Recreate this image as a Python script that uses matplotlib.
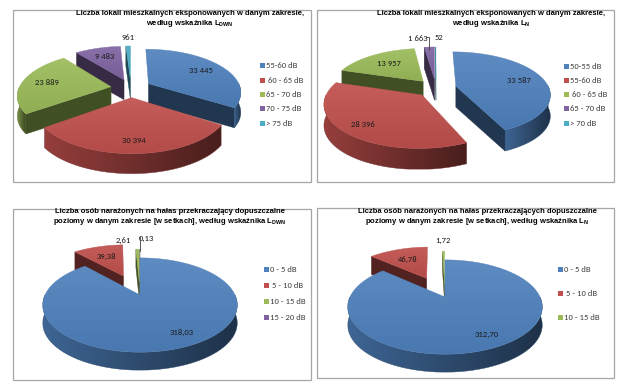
"""Four exploded 3D pie charts (noise exposure, Excel-style)."""
import matplotlib

matplotlib.use("Agg")
import matplotlib.pyplot as plt
import numpy as np
from matplotlib import font_manager as fm
from matplotlib.colors import to_rgb
from matplotlib.patches import Polygon, Rectangle


def has_font(name):
    try:
        fm.findfont(name, fallback_to_default=False)
        return True
    except ValueError:
        return False


TITLE_FONT = "Liberation Sans Narrow" if has_font("Liberation Sans Narrow") else "Liberation Sans"
TITLE_SIZE = 6.2 if TITLE_FONT.endswith("Narrow") else 5.5
BODY_FONT = "Carlito" if has_font("Carlito") else "Lato"
plt.rcParams["mathtext.fontset"] = "custom"
plt.rcParams["mathtext.bf"] = TITLE_FONT + ":bold"
plt.rcParams["mathtext.rm"] = TITLE_FONT + ":bold"

# ---- data -------------------------------------------------------------
p1_labels = ["55-60 dB", " 60 - 65 dB", "65 - 70 dB", "70 - 75 dB", "> 75 dB"]
p1_values = [33445, 30394, 23889, 9483, 961]

p2_labels = ["50-55 dB", "55-60 dB", " 60 - 65 dB", "65 - 70 dB", "> 70 dB"]
p2_values = [33587, 28396, 13957, 1663, 52]

p3_labels = ["0 - 5 dB", " 5 - 10 dB", "10 - 15 dB", "15 - 20 dB"]
p3_values = [318.03, 39.38, 2.61, 0.13]

p4_labels = ["0 - 5 dB", " 5 - 10 dB", "10 - 15 dB"]
p4_values = [312.70, 46.78, 1.72]

COLORS = ["#4F81BD", "#C0504D", "#9BBB59", "#8064A2", "#4BACC6"]

title_lok = "Liczba lokali mieszkalnych eksponowanych w danym zakresie,\nwedług wskaźnika L"
title_os1 = ("Liczba osób narażonych na hałas przekraczający dopuszczalne\n"
             "poziomy w danym zakresie [w setkach], według wskaźnika L")
title_os2 = ("Liczba osób narażonych na hałas przekraczających dopuszczalne\n"
             "poziomy w danym zakresie [w setkach], według wskaźnika L")


def fmt_int(v):
    return f"{v:,.0f}".replace(",", " ")


def fmt_dec(v):
    return f"{v:.2f}".replace(".", ",")


# ---- 3D pie helpers ---------------------------------------------------
def shade(c, f):
    return np.clip(np.array(to_rgb(c)) * f, 0, 1)


def tint(c, f):
    c = np.array(to_rgb(c))
    return c + (1 - c) * f


def proj(pie, X, Z, h=0.0):
    p = 1.0 / (1.0 + pie["k"] * Z)
    return pie["cx"] + pie["rx"] * X * p, pie["cy"] - pie["ry"] * Z * p + h


def grad_fill(ax, xs, ys, c0, c1, z, horizontal=True):
    poly = Polygon(np.c_[xs, ys], closed=True, fc="none", ec="none", zorder=z)
    ax.add_patch(poly)
    t = np.linspace(0, 1, 64)[:, None]
    cols = (1 - t) * np.asarray(c0) + t * np.asarray(c1)
    img = cols[None, :, :] if horizontal else cols[:, None, :]
    im = ax.imshow(img, extent=(min(xs), max(xs), max(ys), min(ys)),
                   aspect="auto", zorder=z, interpolation="bilinear")
    im.set_clip_path(poly)
    # thin outline to hide clipping seams
    ax.add_patch(Polygon(np.c_[xs, ys], closed=True, fc="none",
                         ec=tuple((np.asarray(c0) + np.asarray(c1)) / 2),
                         lw=0.3, zorder=z))


def draw_pie3d(ax, values, texts, pie):
    vals = np.asarray(values, float)
    frac = vals / vals.sum()
    ends = 90 - 360 * np.cumsum(frac)
    starts = ends + 360 * frac
    d = pie["depth"]
    wedges = []
    for i, (a1, a2) in enumerate(zip(starts, ends)):
        m = np.radians((a1 + a2) / 2)
        e = pie["explode"][i]
        ex, ez = e * np.cos(m), e * np.sin(m)
        t = np.radians(np.linspace(a1, a2, max(int(abs(a1 - a2) * 3), 6)))
        key = ez + 0.6 * np.mean(np.sin(t))
        wedges.append((key, i, ex, ez, t, m))

    z = 5
    for key, i, ex, ez, t, m in sorted(wedges, key=lambda w: -w[0]):
        col = COLORS[i]
        X, Z = ex + np.cos(t), ez + np.sin(t)
        tx, ty = proj(pie, X, Z)
        ax_, ay_ = proj(pie, ex, ez)
        side = shade(col, 0.42)
        # radial cut faces
        for j, vis in ((0, np.cos(t[0]) < 0), (-1, np.cos(t[-1]) > 0)):
            if vis:
                qx = [ax_, tx[j], tx[j], ax_]
                qy = [ay_, ty[j], ty[j] + d, ay_ + d]
                ax.add_patch(Polygon(np.c_[qx, qy], closed=True, fc=side,
                                     ec=side, lw=0.3, zorder=z))
                z += 1
        # outer curved wall (front half only)
        idx = np.flatnonzero(np.sin(t) < 0)
        if idx.size:
            runs = np.split(idx, np.flatnonzero(np.diff(idx) > 1) + 1)
            for r in runs:
                wx = np.r_[tx[r], tx[r][::-1]]
                wy = np.r_[ty[r], ty[r][::-1] + d]
                grad_fill(ax, wx, wy, shade(col, 0.78), shade(col, 0.38), z)
                z += 1
        # top face
        px = np.r_[ax_, tx]
        py = np.r_[ay_, ty]
        grad_fill(ax, px, py, tint(col, 0.08), shade(col, 0.93), z, horizontal=False)
        z += 1

        # data label
        ang = pie["label_ang"][i]
        a = m if ang is None else np.radians(ang)
        f = pie["label_f"][i]
        lx, ly = proj(pie, ex + f * np.cos(a), ez + f * np.sin(a))
        ax.text(lx, ly, texts[i], ha="center", va="center", fontsize=6.2,
                family=BODY_FONT, color="#1a1a1a", zorder=200)
        if pie["leader"][i]:
            sx, sy = proj(pie, ex + 1.0 * np.cos(m), ez + 1.0 * np.sin(m))
            side_x = lx + (8 if sx > lx else -8)
            ax.plot([side_x, sx, sx], [ly - 1, ly - 1, sy + 2], color="#404040",
                    lw=0.6, zorder=200)


def draw_panel(ax, box, title, sub, title_xy, values, texts, labels, pie,
               leg_x, leg_y):
    x0, y0, x1, y1 = box
    ax.add_patch(Rectangle((x0, y0), x1 - x0, y1 - y0, fc="white",
                           ec="#a6a6a6", lw=0.9, zorder=1))
    ax.text(title_xy[0], title_xy[1], title + r"$_{\mathbf{" + sub + "}}$",
            ha="center", va="top", fontsize=TITLE_SIZE, fontweight="bold",
            family=TITLE_FONT, linespacing=1.2, zorder=200)
    draw_pie3d(ax, values, texts, pie)
    for i, (lab, yy) in enumerate(zip(labels, leg_y)):
        ax.add_patch(Rectangle((leg_x - 2, yy - 2), 4.5, 4.5, fc=COLORS[i],
                               ec="none", zorder=200))
        ax.text(leg_x + 4.5, yy + 0.3, lab, ha="left", va="center", fontsize=6.2,
                family=BODY_FONT, color="#404040", zorder=200)


fig = plt.figure(figsize=(6.26, 3.85), dpi=100)
ax = fig.add_axes([0, 0, 1, 1])

pie1 = dict(cx=131, cy=88, rx=92, ry=42, k=0.18, depth=20,
            explode=[0.22] * 5, label_f=[0.72, 0.8, 0.72, 0.72, 1.32],
            label_ang=[None, None, None, None, None], leader=[0, 0, 0, 0, 0])
pie2 = dict(cx=436, cy=88, rx=93, ry=41, k=0.18, depth=21,
            explode=[0.22] * 5, label_f=[0.72, 0.8, 0.65, 1.35, 1.35],
            label_ang=[None, None, None, 100, 88], leader=[0, 0, 0, 1, 0])
pie3 = dict(cx=140, cy=295, rx=95, ry=45, k=0.213, depth=18,
            explode=[0.0, 0.5, 0.3, 0.3], label_f=[0.8, 0.62, 1.35, 1.42],
            label_ang=[-62, None, 100, 86], leader=[0, 0, 0, 1])
pie4 = dict(cx=445, cy=297, rx=95, ry=45, k=0.213, depth=18,
            explode=[0.0, 0.5, 0.3], label_f=[0.8, 0.62, 1.4],
            label_ang=[-62, None, None], leader=[0, 0, 0])

draw_panel(ax, (13, 10, 311, 182), title_lok, "DWN", (190, 10),
           p1_values, [fmt_int(v) for v in p1_values], p1_labels, pie1,
           262, [65, 80, 94, 108, 123])
draw_panel(ax, (317, 10, 614, 182), title_lok, "N", (491, 10),
           p2_values, [fmt_int(v) for v in p2_values], p2_labels, pie2,
           566, [66, 80, 94, 108, 123])
draw_panel(ax, (13, 209, 311, 380), title_os1, "DWN", (170, 208),
           p3_values, [fmt_dec(v) for v in p3_values], p3_labels, pie3,
           266, [269, 285, 301, 317])
draw_panel(ax, (317, 208, 614, 378), title_os2, "N", (477, 208),
           p4_values, [fmt_dec(v) for v in p4_values], p4_labels, pie4,
           560, [269, 293, 317])

ax.set_xlim(0, 626)
ax.set_ylim(385, 0)
ax.axis("off")
fig.savefig("out.png", dpi=100)
